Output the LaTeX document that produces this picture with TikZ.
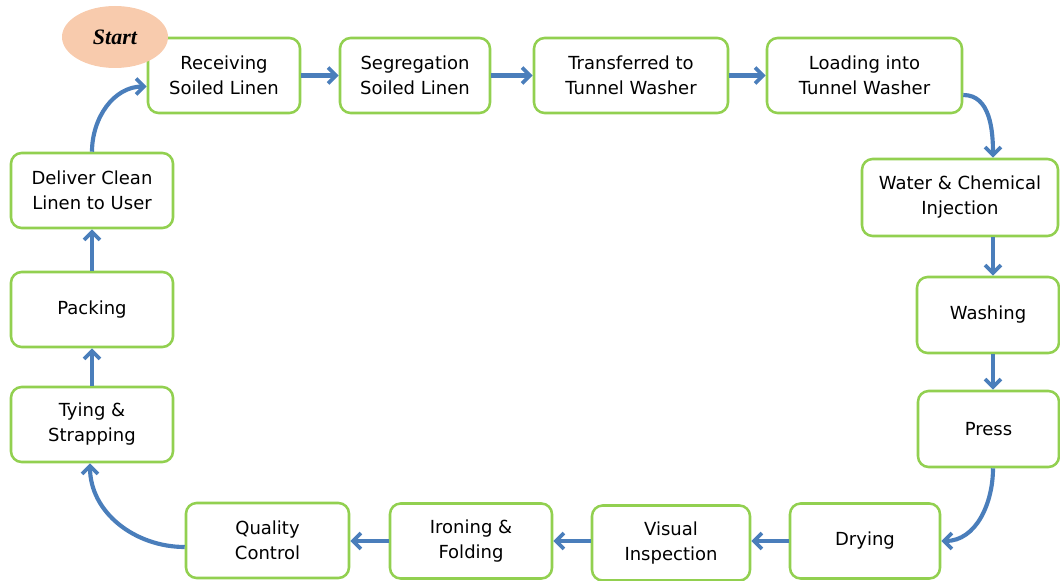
\documentclass[tikz,border=0pt]{standalone}
\usepackage{fontspec}
\setmainfont{DejaVu Sans}
\newfontfamily\startfont{Liberation Serif}
\usetikzlibrary{arrows.meta,calc,shapes.geometric}
\definecolor{boxgreen}{RGB}{146,208,80}
\definecolor{arrowblue}{RGB}{74,126,187}
\definecolor{peach}{RGB}{248,203,173}
\tikzset{
  bx/.style 2 args={draw=boxgreen, line width=1.9pt, rounded corners=8pt, fill=white,
    align=center, inner sep=0pt, minimum width=#1*0.75pt, minimum height=#2*0.75pt,
    font=\fontsize{13.5}{18.75}\selectfont},
  arr/.style={draw=arrowblue, line width=3.1pt, -{Straight Barb[length=6pt,width=12pt,line width=2.8pt]}},
  startnode/.style={ellipse, fill=peach, draw=none, inner sep=0pt,
    minimum width=106*0.75pt, minimum height=62*0.75pt,
    font=\startfont\bfseries\itshape\fontsize{16.5}{18}\selectfont}
}
\begin{document}
\begin{tikzpicture}[x=0.75pt,y=0.75pt]
\useasboundingbox (0,0) rectangle (1060,-581);
% top row
\node[bx={152}{75}] (rec) at (224,-75.5) {Receiving\\Soiled Linen};
\node[bx={150}{75}] (seg) at (415,-75.5) {Segregation\\Soiled Linen};
\node[bx={194}{75}] (tra) at (631,-75.5) {Transferred to\\Tunnel Washer};
\node[bx={195}{75}] (loa) at (864.5,-75.5) {Loading into\\Tunnel Washer};
% right column
\node[bx={196}{77}] (wat) at (960,-197.5) {Water \& Chemical\\Injection};
\node[bx={142}{76}] (was) at (988,-315) {Washing};
\node[bx={141}{76}] (pre) at (988.5,-429) {Press};
% bottom row
\node[bx={150}{75}] (dry) at (865,-541) {Drying};
\node[bx={158}{75}] (vis) at (671,-543) {Visual\\Inspection};
\node[bx={162}{75}] (iro) at (471,-541) {Ironing \&\\Folding};
\node[bx={163}{75}] (qua) at (267.5,-540.5) {Quality\\Control};
% left column
\node[bx={162}{75}] (tyi) at (92,-424.5) {Tying \&\\Strapping};
\node[bx={162}{75}] (pac) at (92,-309.5) {Packing};
\node[bx={162}{75}] (del) at (92,-190.5) {Deliver Clean\\Linen to User};
% start
\node[startnode] (start) at (115,-37) {Start};
% connectors
\draw[arr] (rec.east) -- (seg.west);
\draw[arr] (seg.east) -- (tra.west);
\draw[arr] (tra.east) -- (loa.west);
\draw[arr] ($(loa.east)+(0,-19.5)$) to[out=0,in=90] ($(wat.north)+(33,0)$);
\draw[arr] ($(wat.south)+(33,0)$) -- ($(was.north)+(5,0)$);
\draw[arr] ($(was.south)+(5,0)$) -- ($(pre.north)+(4.5,0)$);
\draw[arr] ($(pre.south)+(4.5,0)$) to[out=-90,in=0] (dry.east);
\draw[arr] (dry.west) -- ($(vis.east)+(0,2)$);
\draw[arr] ($(vis.west)+(0,2)$) -- (iro.east);
\draw[arr] (iro.west) -- ($(qua.east)+(0,-0.5)$);
\draw[arr] ($(qua.west)+(0,-6.5)$) to[out=180,in=-90] ($(tyi.south)+(-2,0)$);
\draw[arr] (tyi.north) -- (pac.south);
\draw[arr] (pac.north) -- (del.south);
\draw[arr] (del.north) to[out=90,in=180] ($(rec.west)+(0,-11)$);
\end{tikzpicture}
\end{document}
